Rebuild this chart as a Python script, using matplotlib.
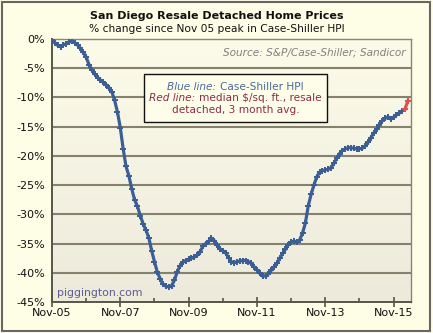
import matplotlib
matplotlib.use("Agg")
import matplotlib.pyplot as plt
import numpy as np
from matplotlib.patches import Rectangle

# Case-Shiller HPI, % change since Nov 05 peak, monthly from Nov-05
hpi = [0.0, -0.6, -1.1, -1.3, -1.0, -0.8, -0.5, -0.4, -0.6, -1.1,
       -1.6, -2.3, -3.1, -4.4, -5.3, -6.0, -6.6, -7.0, -7.4, -7.8,
       -8.3, -9.0, -10.5, -12.5, -15.2, -18.8, -21.8, -23.4, -25.6, -27.5,
       -28.6, -30.2, -31.6, -32.7, -34.0, -36.2, -38.1, -39.9, -41.0, -42.0,
       -42.3, -42.4, -42.2, -41.3, -39.8, -38.8, -38.2, -37.9, -37.7, -37.5,
       -37.3, -37.0, -36.4, -35.5, -35.0, -34.6, -34.1, -34.5, -35.3, -35.9,
       -36.2, -36.6, -37.4, -38.1, -38.3, -38.1, -38.0, -37.9, -37.9, -38.1,
       -38.4, -39.0, -39.5, -40.1, -40.6, -40.5, -40.2, -39.6, -39.0, -38.4,
       -37.5, -36.7, -36.0, -35.2, -34.7, -34.6, -34.7, -34.4, -33.2, -31.5,
       -28.6, -26.6, -25.0, -23.6, -22.8, -22.5, -22.4, -22.3, -22.0, -21.3,
       -20.4, -19.6, -19.1, -18.8, -18.6, -18.6, -18.7, -18.8, -18.8, -18.7,
       -18.3, -17.7, -16.9, -16.1, -15.4, -14.7, -14.0, -13.6, -13.3, -13.7,
       -13.4, -13.0, -12.7, -12.3, -12.0]
# Median $/sq.ft. resale detached, 3 month avg (recent months)
red_months = [124, 125]
red_vals = [-12.0, -10.6]

x_ticks = [0, 24, 48, 72, 96, 120]
x_labels = ["Nov-05", "Nov-07", "Nov-09", "Nov-11", "Nov-13", "Nov-15"]
y_ticks = [0, -5, -10, -15, -20, -25, -30, -35, -40, -45]
y_labels = ["0%", "-5%", "-10%", "-15%", "-20%", "-25%", "-30%", "-35%", "-40%", "-45%"]

BG = "#fefde6"
fig = plt.figure(figsize=(4.33, 3.33), dpi=100, facecolor=BG)
ax = fig.add_axes([52/433, 1-302/333, (410.7-52)/433, (302-39)/333])
ax.set_facecolor("none")

# gradient plot background
grad = np.linspace(0, 1, 256).reshape(-1, 1)
top = np.array([0xfc, 0xfb, 0xe9]) / 255
bot = np.array([0xed, 0xea, 0xdc]) / 255
img = top[None, None, :] * (1 - grad[:, :, None]) + bot[None, None, :] * grad[:, :, None]
ax.imshow(img, extent=[0, 1, 0, 1], transform=ax.transAxes, aspect="auto", zorder=0)

months = np.arange(len(hpi))
for yv in y_ticks[1:-1]:
    ax.axhline(yv, color="#86816d", lw=1.5, zorder=1)

ax.plot(months, hpi, color="#3b5f95", lw=2.3, marker="P", ms=3.8, mew=0, zorder=3)
ax.plot(red_months, red_vals, color="#d9534f", lw=2.3, marker="P", ms=3.8, mew=0, zorder=4)

ax.set_xlim(0, 126)
ax.set_ylim(-45, 0)
ax.set_xticks(x_ticks)
ax.set_xticklabels(x_labels)
ax.set_xticks([12, 36, 60, 84, 108], minor=True)
ax.set_yticks(y_ticks)
ax.set_yticklabels(y_labels)
ax.tick_params(axis="x", which="major", direction="inout", length=7, width=1.2, color="#555548",
               labelsize=8, pad=1, labelcolor="#111111")
ax.tick_params(axis="x", which="minor", direction="in", length=3, width=1.2, color="#555548")
ax.tick_params(axis="y", which="major", length=0, labelsize=8, pad=5, labelcolor="#111111")

for s in ["top", "right"]:
    ax.spines[s].set_color("#8a8575")
    ax.spines[s].set_linewidth(1.0)
for s in ["left", "bottom"]:
    ax.spines[s].set_color("#555548")
    ax.spines[s].set_linewidth(1.4)

fig.text(0.5, 1-16/333, "San Diego Resale Detached Home Prices", ha="center", va="center",
         fontsize=8.0, fontweight="bold", color="#111111")
fig.text(0.5, 1-29/333, "% change since Nov 05 peak in Case-Shiller HPI", ha="center", va="center",
         fontsize=7.7, color="#111111")

ax.text(0.985, 0.95, "Source: S&P/Case-Shiller; Sandicor", transform=ax.transAxes, ha="right",
        va="center", fontsize=7.6, style="italic", color="#808080")
ax.text(0.015, 0.035, "piggington.com", transform=ax.transAxes, ha="left", va="center",
        fontsize=7.8, color="#5b5b95")

# legend box
bx0, bx1 = 144/433, 326.7/433
by0, by1 = 1-122.3/333, 1-74.3/333
fig.patches.append(Rectangle((bx0, by0), bx1-bx0, by1-by0, transform=fig.transFigure,
                             facecolor="#fefde9", edgecolor="#111111", lw=1.0, zorder=5))
cx = (bx0 + bx1) / 2
blue = "#4a6a9c"
red = "#8a2c48"
fs = 7.6
line1a, line1b = "Blue line: ", "Case-Shiller HPI"
line2a, line2b = "Red line: ", "median $/sq. ft., resale"
fig.canvas.draw()
r = fig.canvas.get_renderer()
def two_part(y, a, b, col):
    ta = fig.text(0, y, a, fontsize=fs, style="italic", color=col, va="center", zorder=6)
    tb = fig.text(0, y, b, fontsize=fs, color=col, va="center", zorder=6)
    wa = ta.get_window_extent(r).width / fig.bbox.width
    wb = tb.get_window_extent(r).width / fig.bbox.width
    x0 = cx - (wa + wb) / 2
    ta.set_x(x0)
    tb.set_x(x0 + wa)
two_part(1-86.7/333, line1a, line1b, blue)
two_part(1-98.0/333, line2a, line2b, red)
fig.text(cx, 1-110/333, "detached, 3 month avg.", ha="center", va="center", fontsize=fs,
         color=red, zorder=6)

# outer border
fig.patches.append(Rectangle((2/433, 2/333), 428/433, 329/333, transform=fig.transFigure,
                             facecolor="none", edgecolor="#666666", lw=1.5, zorder=10))

fig.savefig("out.png", dpi=100, facecolor=BG)
